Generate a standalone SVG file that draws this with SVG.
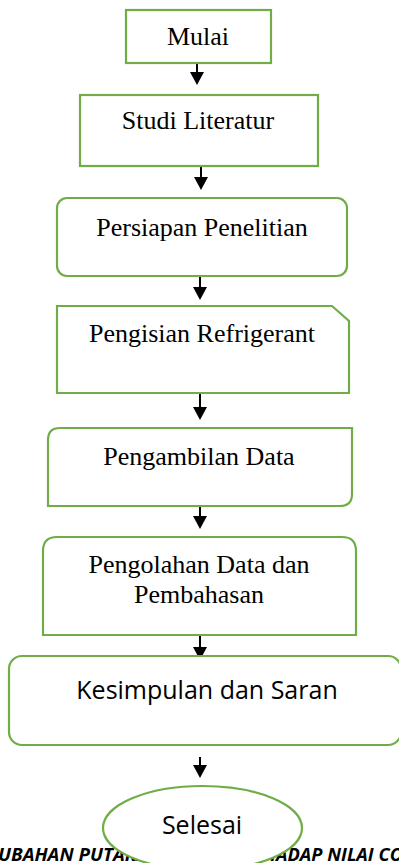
<svg xmlns="http://www.w3.org/2000/svg" width="399" height="863" viewBox="0 0 399 863">
<style>
.box{fill:#fff;stroke:#70AD47;stroke-width:2.2}
.t{font-family:"Liberation Serif","Times New Roman",serif;font-size:26px;fill:#000;text-anchor:middle}
.s{font-family:"Open Sans","Liberation Sans",sans-serif;fill:#000;text-anchor:middle}
.c{stroke:#000;stroke-width:2;fill:none}
.foot{font-family:"Open Sans","Liberation Sans",sans-serif;font-weight:bold;font-style:italic;font-size:18px;fill:#000}
</style>
<g id="footer">
<text class="foot" x="-2" y="861" textLength="150" lengthAdjust="spacingAndGlyphs">UBAHAN PUTARA</text>
<text class="foot" x="252" y="861" textLength="151" lengthAdjust="spacingAndGlyphs">RHADAP NILAI CO</text>
</g>
<g id="connectors">
<line class="c" x1="197" y1="63" x2="197" y2="72"/><path d="M190,72 L204,72 L197,85 Z"/>
<line class="c" x1="201" y1="167" x2="201" y2="177"/><path d="M194,177 L208,177 L201,190 Z"/>
<line class="c" x1="200" y1="277" x2="200" y2="287"/><path d="M193,287 L207,287 L200,300 Z"/>
<line class="c" x1="200" y1="394" x2="200" y2="407"/><path d="M193,407 L207,407 L200,420 Z"/>
<line class="c" x1="200" y1="507" x2="200" y2="516"/><path d="M193,516 L207,516 L200,529 Z"/>
<line class="c" x1="200" y1="636" x2="200" y2="647"/><path d="M193,647 L207,647 L200,660 Z"/>
<line class="c" x1="200" y1="757" x2="200" y2="765"/><path d="M193,765 L207,765 L200,778 Z"/>
</g>
<g id="mulai">
<rect class="box" x="126" y="10" width="145" height="53"/>
<text class="t" x="198" y="45">Mulai</text>
</g>
<g id="studi">
<rect class="box" x="80" y="95" width="238" height="71"/>
<text class="t" x="198" y="129">Studi Literatur</text>
</g>
<g id="persiapan">
<rect class="box" x="57" y="198" width="290" height="78" rx="10"/>
<text class="t" x="202" y="236">Persiapan Penelitian</text>
</g>
<g id="pengisian">
<path class="box" d="M57,306 L332,306 L349,321 L349,393 L57,393 Z"/>
<text class="t" x="202" y="342">Pengisian Refrigerant</text>
</g>
<g id="pengambilan">
<path class="box" d="M60,428 L352,428 L352,494 Q352,506 340,506 L48,506 L48,440 Q48,428 60,428 Z"/>
<text class="t" x="199" y="465">Pengambilan Data</text>
</g>
<g id="pengolahan">
<path class="box" d="M57,537 L342,537 Q356,537 356,551 L356,635 L43,635 L43,551 Q43,537 57,537 Z"/>
<text class="t" x="199" y="573">Pengolahan Data dan</text>
<text class="t" x="199" y="603">Pembahasan</text>
</g>
<g id="kesimpulan">
<rect class="box" x="9" y="656" width="392" height="89" rx="13"/>
<text class="s" x="207" y="699" font-size="25">Kesimpulan dan Saran</text>
</g>
<g id="selesai">
<ellipse class="box" cx="202.5" cy="828" rx="99.5" ry="42"/>
<text class="s" x="202" y="834" font-size="25">Selesai</text>
</g>
</svg>
